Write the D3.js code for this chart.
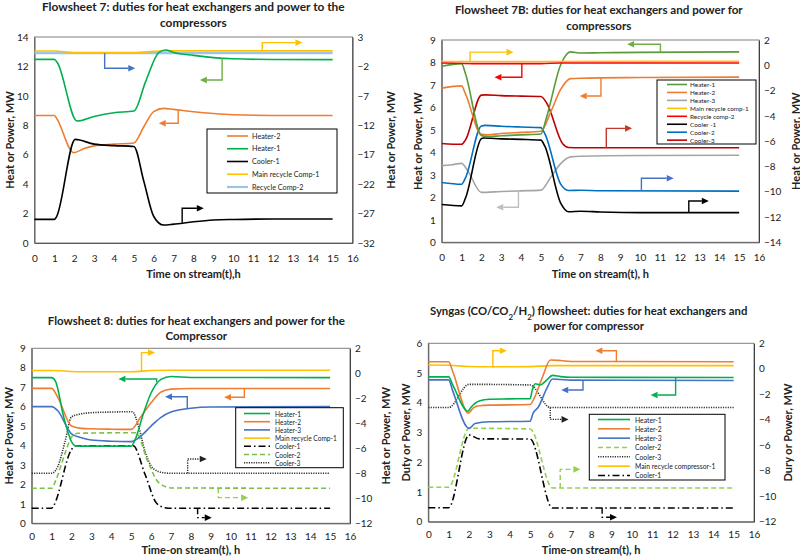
<!DOCTYPE html>
<html><head><meta charset="utf-8">
<script src="https://cdn.jsdelivr.net/npm/d3@7"></script>
<style>
body{margin:0;background:#fff}
svg{display:block}
text{font-family:Lato,"Open Sans","Liberation Sans",sans-serif;fill:#222}
</style>
</head><body>
<svg id="c" width="800" height="558"></svg>
<script>
// ---------- shared ticks ----------
const xTicks = [0,1,2,3,4,5,6,7,8,9,10,11,12,13,14,15,16];

// ---------- Flowsheet 7 ----------
const fs7_leftTicks = [0,2,4,6,8,10,12,14];
const fs7_rightTicks = [3,-2,-7,-12,-17,-22,-27,-32];
const fs7_heater2 = [[0,8.66],[1,8.66],[1.1,8.5],[1.97,6.14],[2.5,6.42],[3,6.6],[4,6.72],[5,6.8],[5.5,7.9],[6,8.93],[6.5,9.15],[7,9.08],[8,8.92],[9,8.8],[10,8.72],[12,8.67],[15,8.66]];
const fs7_heater1 = [[0,12.48],[1,12.48],[1.15,12.25],[2.14,8.29],[3,8.6],[4,8.85],[5,8.97],[5.6,11],[6.25,12.94],[6.6,13.12],[7,12.95],[8,12.75],[9,12.6],[10,12.52],[12,12.47],[15,12.46]];
const fs7_cooler1 = [[0,-27.98],[1,-27.98],[1.1,-27.6],[2.05,-14.4],[3,-15.2],[4,-15.45],[5,-15.6],[5.5,-21.5],[6,-27.5],[6.5,-28.95],[7,-28.8],[8,-28.4],[9,-28.1],[10,-28.0],[12,-27.93],[15,-27.93]];
const fs7_mainComp1 = [[0,0.62],[1,0.62],[2,0.35],[3,0.35],[5,0.35],[6,0.55],[6.5,0.65],[15,0.65]];
const fs7_recycleComp2 = [[0,0.25],[5,0.25],[15,0.25]];
const fs7_arrows = [
  {color:"#FFC000", pts:[[11.46,13.05],[11.46,13.62],[13.48,13.62]]},
  {color:"#4472C4", pts:[[3.53,12.9],[3.53,11.88],[5.07,11.88]]},
  {color:"#70AD47", pts:[[9.44,12.58],[9.44,11.08],[8.32,11.08]]},
  {color:"#ED7D31", pts:[[7.23,9.02],[7.23,8.14],[6.25,8.14]]},
  {color:"#000000", pts:[[7.43,1.38],[7.43,2.36],[8.52,2.36]]}
];

// ---------- Flowsheet 7B ----------
const fs7b_leftTicks = [0,1,2,3,4,5,6,7,8,9];
const fs7b_rightTicks = [2,0,-2,-4,-6,-8,-10,-12,-14];
const fs7b_heater1 = [[0,7.83],[1,7.95],[1.2,7.5],[2,4.75],[2.3,4.7],[3,4.74],[4,4.78],[5,4.82],[5.3,5.6],[6,7.9],[6.5,8.47],[7,8.42],[8,8.43],[10,8.45],[15,8.47]];
const fs7b_heater2 = [[0,6.86],[1,6.96],[1.2,6.6],[2,4.8],[2.3,4.78],[3,4.84],[4,4.89],[5,4.94],[5.5,5.8],[6,6.8],[6.5,7.28],[7,7.3],[10,7.33],[15,7.35]];
const fs7b_heater3 = [[0,3.41],[0.5,3.45],[1,3.51],[1.3,3.2],[2,2.22],[3,2.26],[4,2.29],[5,2.32],[5.5,2.9],[6,3.5],[6.5,3.8],[7,3.83],[10,3.86],[15,3.87]];
const fs7b_mainComp1 = [[0,0.3],[5,0.3],[15,0.32]];
const fs7b_recycleComp2 = [[0,7.98],[2,7.95],[5,7.95],[6,7.98],[15,7.98]];
const fs7b_cooler1 = [[0,-11.01],[1,-11.12],[1.2,-10.5],[2,-5.8],[2.1,-5.75],[3,-5.82],[4,-5.86],[5,-5.92],[5.2,-6.4],[6,-10.9],[6.4,-11.58],[7,-11.55],[8,-11.6],[10,-11.65],[15,-11.65]];
const fs7b_cooler2 = [[0,-9.27],[1,-9.41],[1.2,-8.9],[2,-4.8],[2.2,-4.75],[3,-4.82],[4,-4.88],[5,-4.93],[5.2,-5.4],[6,-9.4],[6.4,-9.9],[7,-9.88],[8,-9.92],[15,-9.95]];
const fs7b_cooler3 = [[0,-6.18],[1,-6.25],[1.2,-5.9],[2,-2.36],[2.2,-2.34],[3,-2.4],[4,-2.44],[5,-2.47],[5.3,-3.0],[6.1,-6.2],[6.4,-6.5],[7,-6.52],[15,-6.52]];
const fs7b_arrows = [
  {color:"#70AD47", pts:[[11.03,8.45],[11.03,8.81],[9.35,8.81]]},
  {color:"#FFC000", pts:[[1.43,8.05],[1.43,8.46],[3.62,8.46]]},
  {color:"#FF0000", pts:[[4.04,7.96],[4.04,7.34],[2.66,7.34]]},
  {color:"#ED7D31", pts:[[8.03,7.34],[8.03,6.51],[6.96,6.51]]},
  {color:"#C0392B", pts:[[8.3,4.21],[8.3,5.07],[9.6,5.07]]},
  {color:"#4472C4", pts:[[10.07,2.28],[10.07,2.85],[11.7,2.85]]},
  {color:"#000000", pts:[[12.46,1.32],[12.46,1.84],[13.47,1.84]]},
  {color:"#BFBFBF", pts:[[3.87,2.29],[3.87,1.56],[2.75,1.56]]}
];

// ---------- Flowsheet 8 ----------
const fs8_leftTicks = [0,1,2,3,4,5,6,7,8,9];
const fs8_rightTicks = [2,0,-2,-4,-6,-8,-10,-12];
const fs8_heater1 = [[0,7.49],[1,7.49],[1.2,7.3],[1.6,5.5],[2,4.2],[2.2,3.98],[3,3.97],[5,3.97],[5.2,4.3],[5.6,5.6],[6,6.7],[6.5,7.4],[7,7.55],[8,7.5],[15,7.49]];
const fs8_heater2 = [[0,6.94],[1,6.94],[1.3,6.5],[2,5.0],[2.5,4.88],[3,4.86],[4,4.84],[5,4.83],[5.5,5.5],[6,6.2],[6.5,6.75],[7,6.9],[8,6.93],[15,6.93]];
const fs8_heater3 = [[0,6.0],[1,6.0],[1.3,5.8],[2,4.6],[2.5,4.4],[3,4.28],[4,4.22],[5,4.2],[5.5,4.5],[6,5.0],[6.5,5.45],[7,5.72],[8,5.92],[9,5.98],[15,6.0]];
const fs8_mainComp1 = [[0,0.22],[1,0.22],[2,0.15],[3,0.12],[5,0.13],[6,0.22],[7,0.25],[15,0.25]];
const fs8_cooler1 = [[0,-10.8],[1,-10.8],[1.1,-10.6],[2,-6.1],[2.2,-5.8],[3,-5.8],[5.1,-5.8],[5.7,-8.1],[6.28,-10.4],[6.7,-10.75],[7,-10.8],[15,-10.8]];
const fs8_cooler2 = [[0,-9.2],[1,-9.2],[1.2,-8.6],[1.7,-6.3],[2,-5.1],[2.3,-4.8],[3,-4.78],[5.25,-4.75],[5.8,-6.9],[6.36,-8.7],[7,-9.17],[15,-9.2]];
const fs8_cooler3 = [[0,-8.0],[1,-8.0],[1.3,-7.5],[1.67,-5.5],[2,-3.48],[2.35,-3.29],[3,-3.15],[4,-3.1],[5.05,-3.07],[5.4,-4.4],[5.7,-6.27],[6.1,-7.6],[6.6,-7.95],[7,-8.0],[15,-8.0]];
const fs8_arrows = [
  {color:"#FFC000", pts:[[5.52,7.8],[5.52,8.78],[6.2,8.78]]},
  {color:"#00B050", pts:[[6.28,7.25],[6.28,7.42],[4.36,7.42]]},
  {color:"#ED7D31", pts:[[10.69,6.93],[10.69,6.48],[9.67,6.48]]},
  {color:"#4472C4", pts:[[7.82,5.9],[7.82,6.51],[6.7,6.51]]},
  {color:"#222222", dash:"1.2,1.2", pts:[[7.84,2.57],[7.84,3.31],[8.8,3.31]]},
  {color:"#92D050", dash:"5,3", pts:[[9.38,1.8],[9.38,1.32],[10.88,1.32]]},
  {color:"#000000", dash:"6,3,1.5,3", pts:[[8.34,0.77],[8.34,0.29],[9.05,0.29]]}
];

// ---------- Syngas ----------
const sg_leftTicks = [0,1,2,3,4,5,6];
const sg_rightTicks = [2,0,-2,-4,-6,-8,-10,-12];
const sg_heater1 = [[0,4.87],[1,4.87],[1.2,4.6],[1.95,3.72],[2.1,3.85],[2.5,4.06],[3,4.12],[4,4.13],[5,4.14],[5.1,4.4],[5.25,4.64],[5.5,4.6],[5.8,4.75],[6.1,4.92],[6.5,4.88],[7,4.86],[15,4.85]];
const sg_heater2 = [[0,5.38],[1,5.38],[1.2,5.05],[1.97,3.65],[2.2,3.82],[2.5,3.9],[3,3.92],[5,3.94],[5.2,4.15],[5.6,4.85],[6,5.44],[6.5,5.42],[7,5.39],[15,5.38]];
const sg_heater3 = [[0,4.77],[1,4.77],[1.2,4.4],[2,3.14],[2.3,3.3],[3,3.36],[5,3.38],[5.15,3.65],[5.4,3.85],[5.8,4.45],[6.1,4.8],[6.5,4.78],[7,4.76],[15,4.75]];
const sg_cooler2 = [[0,-9.3],[1,-9.3],[2,-4.67],[5,-4.72],[6.1,-9.35],[15,-9.35]];
const sg_cooler3 = [[0,-3.04],[1,-3.04],[2,-1.22],[5,-1.27],[6,-3.04],[15,-3.04]];
const sg_mainComp1 = [[0,0.3],[1,0.28],[2,0.18],[3,0.16],[5,0.17],[6,0.25],[7,0.25],[15,0.25]];
const sg_cooler1 = [[0,-10.9],[1,-10.9],[2,-5.19],[2.5,-5.5],[5,-5.51],[6.1,-10.93],[15,-10.93]];
const sg_arrows = [
  {color:"#FFC000", pts:[[3.17,5.19],[3.17,5.75],[3.86,5.75]]},
  {color:"#ED7D31", pts:[[9.24,5.38],[9.24,5.75],[8.21,5.75]]},
  {color:"#4472C4", pts:[[7.6,4.75],[7.6,4.43],[6.53,4.43]]},
  {color:"#00B050", pts:[[12.15,4.85],[12.15,4.26],[10.92,4.26]]},
  {color:"#222222", dash:"1.2,1.2", pts:[[5.99,3.84],[5.99,3.44],[6.89,3.44]]},
  {color:"#92D050", dash:"5,3", pts:[[6.48,1.13],[6.48,1.76],[7.47,1.76]]},
  {color:"#000000", dash:"6,3,1.5,3", pts:[[8.54,0.47],[8.54,0.15],[9.27,0.15]]}
];

// ---------- styles ----------
const DASHDOT = "7,3,1.5,3", DASHED = "5,3", DOTTED = "1.2,1.2";

const panels = [
 { title:[["Flowsheet 7: duties for heat exchangers and power to the"],["compressors"]],
   tW:303, tCx:193.3, tY:[11,27],
   xTitle:"Time on stream(t),h", xTitleY:278, tickY:262,
   yTitle:"Heat or Power, MW", yTitleR:"Heat or Power, MW", yTx:9, yTxR:390,
   rect:{x0:34.5,x1:352.5,y0:37,y1:243},
   lDom:[0,14], lTicks:fs7_leftTicks, rDom:[-32,3], rTicks:fs7_rightTicks,
   series:[
     {name:"Heater-2", data:fs7_heater2, ax:"L", color:"#ED7D31"},
     {name:"Heater-1", data:fs7_heater1, ax:"L", color:"#00B050"},
     {name:"Cooler-1", data:fs7_cooler1, ax:"R", color:"#000000"},
     {name:"Main recycle Comp-1", data:fs7_mainComp1, ax:"R", color:"#FFC000"},
     {name:"Recycle Comp-2", data:fs7_recycleComp2, ax:"R", color:"#9DC3E6", w:2.2}
   ],
   order:[4,3,0,1,2],
   arrows:fs7_arrows,
   legend:{x:207,y:129,w:130,h:64,lx0:227,lx1:248,tx:252,row0:136,dy:12.75,fs:7.2}
 },
 { title:[["Flowsheet 7B: duties for heat exchangers and power for"],["compressors"]],
   tW:288, tCx:598.8, tY:[14,29.5],
   xTitle:"Time on stream(t), h", xTitleY:278, tickY:261,
   yTitle:"Heat or Power, MW", yTitleR:"Heat or Power, MW", yTx:417, yTxR:795,
   rect:{x0:441.7,x1:759,y0:40,y1:242.3},
   lDom:[0,9], lTicks:fs7b_leftTicks, rDom:[-14,2], rTicks:fs7b_rightTicks,
   series:[
     {name:"Heater-1", data:fs7b_heater1, ax:"L", color:"#5A9A3A"},
     {name:"Heater-2", data:fs7b_heater2, ax:"L", color:"#ED7D31"},
     {name:"Heater-3", data:fs7b_heater3, ax:"L", color:"#A5A5A5"},
     {name:"Main recycle comp-1", data:fs7b_mainComp1, ax:"R", color:"#FFC000"},
     {name:"Recycle comp-2", data:fs7b_recycleComp2, ax:"L", color:"#FF0000"},
     {name:"Cooler -1", data:fs7b_cooler1, ax:"R", color:"#000000"},
     {name:"Cooler-2", data:fs7b_cooler2, ax:"R", color:"#0070C0"},
     {name:"Cooler-3", data:fs7b_cooler3, ax:"R", color:"#C00000"}
   ],
   order:[2,6,5,7,1,0,3,4],
   arrows:fs7b_arrows,
   legend:{x:657,y:80,w:99,h:64,lx0:667,lx1:687,tx:690,row0:84.5,dy:7.95,fs:6.4}
 },
 { title:[["Flowsheet 8: duties for heat exchangers and power for the"],["Compressor"]],
   tW:297, tCx:196.3, tY:[325,339.5],
   xTitle:"Time-on stream(t), h", xTitleY:553.5, tickY:540.5,
   yTitle:"Heat or Power, MW", yTitleR:"Heat or Power, MW", yTx:8, yTxR:385,
   rect:{x0:31.7,x1:350,y0:348.3,y1:523.3},
   lDom:[0,9], lTicks:fs8_leftTicks, rDom:[-12,2], rTicks:fs8_rightTicks,
   series:[
     {name:"Heater-1", data:fs8_heater1, ax:"L", color:"#00B050"},
     {name:"Heater-2", data:fs8_heater2, ax:"L", color:"#ED7D31"},
     {name:"Heater-3", data:fs8_heater3, ax:"L", color:"#4472C4"},
     {name:"Main recycle Comp-1", data:fs8_mainComp1, ax:"R", color:"#FFC000"},
     {name:"Cooler-1", data:fs8_cooler1, ax:"R", color:"#000000", dash:DASHDOT},
     {name:"Cooler-2", data:fs8_cooler2, ax:"R", color:"#7CC04A", dash:DASHED},
     {name:"Cooler-3", data:fs8_cooler3, ax:"R", color:"#333333", dash:DOTTED}
   ],
   order:[6,5,4,3,2,1,0],
   arrows:fs8_arrows,
   legend:{x:235.7,y:407.7,w:107.6,h:60,lx0:244,lx1:270,tx:275,row0:413.5,dy:8.2,fs:6.6}
 },
 { title:[["Syngas (CO/CO",["2","sub"],"/H",["2","sub"],") flowsheet: duties for heat exchangers and"],["power for compressor"]],
   tW:318, tCx:588.7, tY:[314.5,329.5],
   xTitle:"Time-on stream(t), h", xTitleY:554, tickY:538.5,
   yTitle:"Duty or Power, MW", yTitleR:"Dury or Power, MW", yTx:405, yTxR:787,
   rect:{x0:428.3,x1:754,y0:343.3,y1:521.7},
   lDom:[0,6], lTicks:sg_leftTicks, rDom:[-12,2], rTicks:sg_rightTicks,
   series:[
     {name:"Heater-1", data:sg_heater1, ax:"L", color:"#00B050"},
     {name:"Heater-2", data:sg_heater2, ax:"L", color:"#ED7D31"},
     {name:"Heater-3", data:sg_heater3, ax:"L", color:"#4472C4"},
     {name:"Cooler-2", data:sg_cooler2, ax:"R", color:"#92D050", dash:DASHED},
     {name:"Cooler-3", data:sg_cooler3, ax:"R", color:"#333333", dash:DOTTED},
     {name:"Main recycle compressor-1", data:sg_mainComp1, ax:"R", color:"#FFC000"},
     {name:"Cooler-1", data:sg_cooler1, ax:"R", color:"#000000", dash:DASHDOT}
   ],
   order:[6,4,3,5,2,1,0],
   arrows:sg_arrows,
   legend:{x:589.3,y:414.3,w:135.7,h:65.7,lx0:598,lx1:630,tx:635,row0:419.5,dy:9.33,fs:6.8}
 }
];

const svg = d3.select("#c");

function fitSize(sel, target, base){
  sel.attr("font-size", base);
  const w = sel.node().getComputedTextLength();
  const fs = base * target / w;
  sel.attr("font-size", fs);
  return fs;
}

function writeRich(sel, parts){
  parts.forEach(p=>{
    if (typeof p === "string") sel.append("tspan").text(p);
    else {
      sel.append("tspan").attr("baseline-shift","sub").attr("font-size","70%").text(p[0]);
    }
  });
}

panels.forEach(P=>{
  const g = svg.append("g");
  const R = P.rect;
  const x = d3.scaleLinear().domain([0,16]).range([R.x0,R.x1]);
  const yL = d3.scaleLinear().domain(P.lDom).range([R.y1,R.y0]);
  const yR = d3.scaleLinear().domain(P.rDom).range([R.y1,R.y0]);

  // plot frame
  g.append("rect").attr("x",R.x0).attr("y",R.y0).attr("width",R.x1-R.x0).attr("height",R.y1-R.y0)
    .attr("fill","none").attr("stroke","#808080").attr("stroke-width",1);

  // axes
  const axB = g.append("g").attr("transform",`translate(0,${R.y1})`)
    .call(d3.axisBottom(x).tickValues(xTicks).tickSize(0).tickPadding(0).tickFormat(d3.format("d")));
  axB.select(".domain").attr("stroke","#595959");
  axB.selectAll("text").attr("y", P.tickY - R.y1).attr("dy",0).attr("font-size",10).attr("fill","#404040")
     .style("font-family","Lato,'Open Sans',sans-serif");

  const axL = g.append("g").attr("transform",`translate(${R.x0},0)`)
    .call(d3.axisLeft(yL).tickValues(P.lTicks).tickSize(0).tickPadding(6).tickFormat(d3.format("d")));
  axL.select(".domain").attr("stroke","#595959");
  axL.selectAll("text").attr("font-size",10).attr("fill","#404040").style("font-family","Lato,'Open Sans',sans-serif");

  const axR = g.append("g").attr("transform",`translate(${R.x1},0)`)
    .call(d3.axisRight(yR).tickValues(P.rTicks).tickSize(0).tickPadding(5).tickFormat(d3.format("d")));
  axR.select(".domain").attr("stroke","#404040");
  axR.selectAll("text").attr("font-size",10).attr("fill","#404040").style("font-family","Lato,'Open Sans',sans-serif");

  // series
  const order = P.order || P.series.map((d,i)=>i);
  order.forEach(i=>{
    const s = P.series[i];
    const ys = s.ax==="L" ? yL : yR;
    const line = d3.line().x(d=>x(d[0])).y(d=>ys(d[1])).curve(d3.curveMonotoneX);
    g.append("path").attr("d", line(s.data)).attr("fill","none")
      .attr("stroke", s.color).attr("stroke-width", s.w || 1.6)
      .attr("stroke-dasharray", s.dash || null).attr("stroke-linejoin","round");
  });

  // arrows (in left-axis units)
  P.arrows.forEach(a=>{
    const pts = a.pts.map(p=>[x(p[0]), yL(p[1])]);
    const n = pts.length;
    const [ex,ey] = pts[n-1], [px,py] = pts[n-2];
    const ang = Math.atan2(ey-py, ex-px);
    const L = 7, W = 3.3;
    const bx = ex - L*Math.cos(ang), by = ey - L*Math.sin(ang);
    const linePts = pts.slice(0,n-1).concat([[bx,by]]);
    g.append("path").attr("d", d3.line()(linePts)).attr("fill","none").attr("stroke",a.color)
      .attr("stroke-width",1.4).attr("stroke-dasharray", a.dash || null);
    const nx = -Math.sin(ang), ny = Math.cos(ang);
    g.append("path").attr("d", d3.line()([[ex,ey],[bx+W*nx,by+W*ny],[bx-W*nx,by-W*ny]])+"Z")
      .attr("fill",a.color);
  });

  // legend
  const Lg = P.legend;
  g.append("rect").attr("x",Lg.x).attr("y",Lg.y).attr("width",Lg.w).attr("height",Lg.h)
    .attr("fill","#fff").attr("stroke","#000").attr("stroke-width",1);
  P.series.forEach((s,i)=>{
    const yy = Lg.row0 + i*Lg.dy;
    g.append("line").attr("x1",Lg.lx0).attr("x2",Lg.lx1).attr("y1",yy).attr("y2",yy)
      .attr("stroke",s.color).attr("stroke-width", s.w || 1.6).attr("stroke-dasharray", s.dash || null);
    g.append("text").attr("x",Lg.tx).attr("y",yy).attr("dominant-baseline","central")
      .attr("font-size",Lg.fs).attr("fill","#404040").text(s.name);
  });

  // title
  const t1 = g.append("text").attr("x",P.tCx).attr("y",P.tY[0]).attr("text-anchor","middle")
    .attr("font-weight","bold").attr("fill","#222");
  writeRich(t1, P.title[0]);
  const fs = fitSize(t1, P.tW, 12);
  const t2 = g.append("text").attr("x",P.tCx).attr("y",P.tY[1]).attr("text-anchor","middle")
    .attr("font-weight","bold").attr("font-size",fs).attr("fill","#222");
  writeRich(t2, P.title[1]);

  // axis titles
  const cx = (R.x0+R.x1)/2, cy = (R.y0+R.y1)/2;
  g.append("text").attr("x",cx).attr("y",P.xTitleY).attr("text-anchor","middle")
    .attr("font-weight","bold").attr("font-size",11).text(P.xTitle);
  g.append("text").attr("transform",`translate(${P.yTx},${cy}) rotate(-90)`).attr("text-anchor","middle")
    .attr("dominant-baseline","central").attr("font-weight","bold").attr("font-size",11).text(P.yTitle);
  g.append("text").attr("transform",`translate(${P.yTxR},${cy}) rotate(-90)`).attr("text-anchor","middle")
    .attr("dominant-baseline","central").attr("font-weight","bold").attr("font-size",11).text(P.yTitleR);
});
</script>
</body></html>
